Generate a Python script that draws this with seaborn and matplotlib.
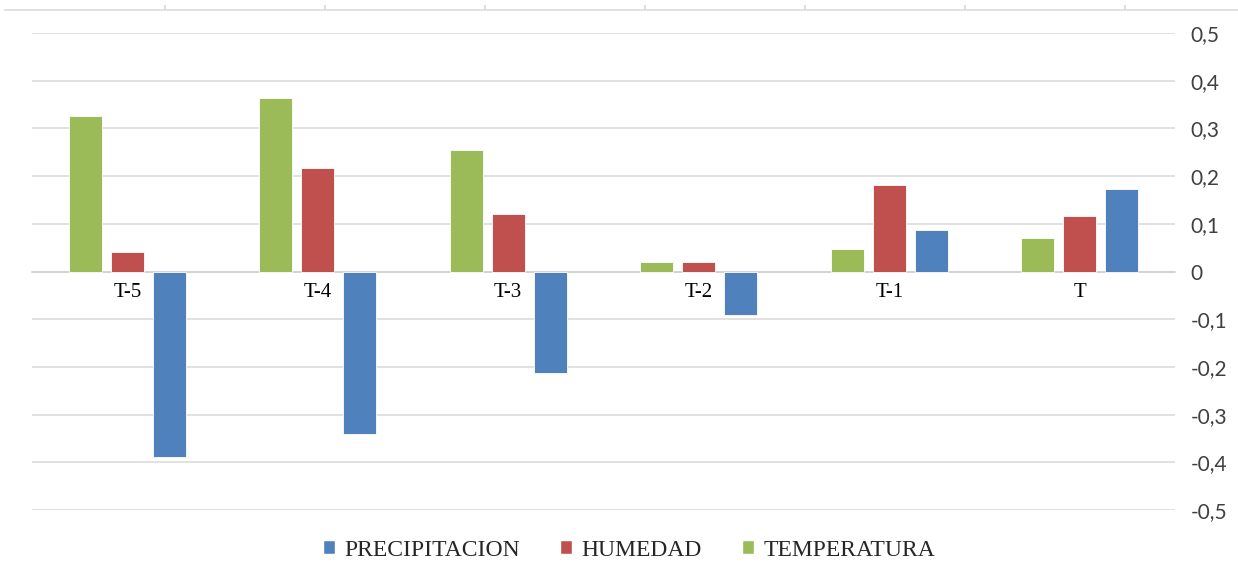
import matplotlib
matplotlib.use("Agg")
import matplotlib.pyplot as plt
from matplotlib.patches import Patch
from matplotlib.ticker import FixedLocator, FuncFormatter
import seaborn as sns
import pandas as pd

categories = ["T-5", "T-4", "T-3", "T-2", "T-1", "T"]
temperatura = [0.325, 0.363, 0.254, 0.020, 0.048, 0.070]
humedad = [0.040, 0.218, 0.120, 0.020, 0.182, 0.116]
precipitacion = [-0.388, -0.340, -0.212, -0.092, 0.088, 0.172]
series_names = ["TEMPERATURA", "HUMEDAD", "PRECIPITACION"]
colors = {"PRECIPITACION": "#4F81BD", "HUMEDAD": "#C0504D", "TEMPERATURA": "#9BBB59"}
y_ticks = [-0.5, -0.4, -0.3, -0.2, -0.1, 0, 0.1, 0.2, 0.3, 0.4, 0.5]

rows = []
for name, vals in zip(series_names, [temperatura, humedad, precipitacion]):
    for c, v in zip(categories, vals):
        rows.append({"cat": c, "serie": name, "valor": v})
df = pd.DataFrame(rows)

sns.set_theme(style="white")
W, H = 1238, 577
fig = plt.figure(figsize=(W / 100, H / 100), dpi=100)
ax = fig.add_axes([32 / W, 67 / H, (1175 - 32) / W, 477 / H])

sns.barplot(data=df, x="cat", y="valor", hue="serie", order=categories,
            hue_order=series_names, palette=colors, saturation=1, width=0.66, gap=0.21,
            edgecolor="white", linewidth=0.6, legend=False, ax=ax, zorder=3)

ax.set_ylim(-0.5, 0.5)
ax.set_xlim(-0.5, len(categories) - 0.5)
ax.yaxis.set_major_locator(FixedLocator(y_ticks))
ax.yaxis.set_major_formatter(FuncFormatter(lambda v, p: ("%g" % round(v, 1)).replace(".", ",")))
ax.yaxis.tick_right()
ax.tick_params(axis="y", length=0, pad=11, labelsize=15)
for lab in ax.get_yticklabels():
    lab.set_fontfamily("Lato")
    lab.set_color("#404040")
ax.grid(axis="y", color="#d9d9d9", linewidth=1.1, zorder=0)
ax.set_axisbelow(True)

for s in ["top", "left", "right"]:
    ax.spines[s].set_visible(False)
ax.spines["bottom"].set_position(("data", 0))
ax.spines["bottom"].set_color("#d0d0d0")
ax.spines["bottom"].set_linewidth(1.1)
ax.tick_params(axis="x", length=0, pad=8, labelsize=15)
for lab in ax.get_xticklabels():
    lab.set_fontfamily("Liberation Serif")
    lab.set_color("#000000")
ax.set_xlabel("")
ax.set_ylabel("")

# top edge line with ticks
axt = fig.add_axes([5 / W, (H - 10) / H, (W - 5) / W, 0.0001])
axt.set_xlim(0, (W - 5) / 160)
axt.set_ylim(0, 1)
for s in ["left", "right", "bottom"]:
    axt.spines[s].set_visible(False)
axt.spines["top"].set_color("#d9d9d9")
axt.spines["top"].set_linewidth(1.1)
axt.set_facecolor("none")
axt.xaxis.tick_top()
axt.set_xticks([1, 2, 3, 4, 5, 6, 7])
axt.tick_params(axis="x", direction="out", length=3.5, color="#d9d9d9", labeltop=False, labelbottom=False)
axt.set_yticks([])

legend_order = ["PRECIPITACION", "HUMEDAD", "TEMPERATURA"]
handles = [Patch(facecolor=colors[n], edgecolor="white", label=n) for n in legend_order]
fig.legend(handles=handles, loc="center", bbox_to_anchor=(629 / W, (H - 550) / H), ncol=3,
           frameon=False, prop={"family": "Liberation Serif", "size": 17},
           handlelength=0.5, handleheight=0.5, handletextpad=0.4, columnspacing=1.7)

fig.savefig("out.png", dpi=100)
